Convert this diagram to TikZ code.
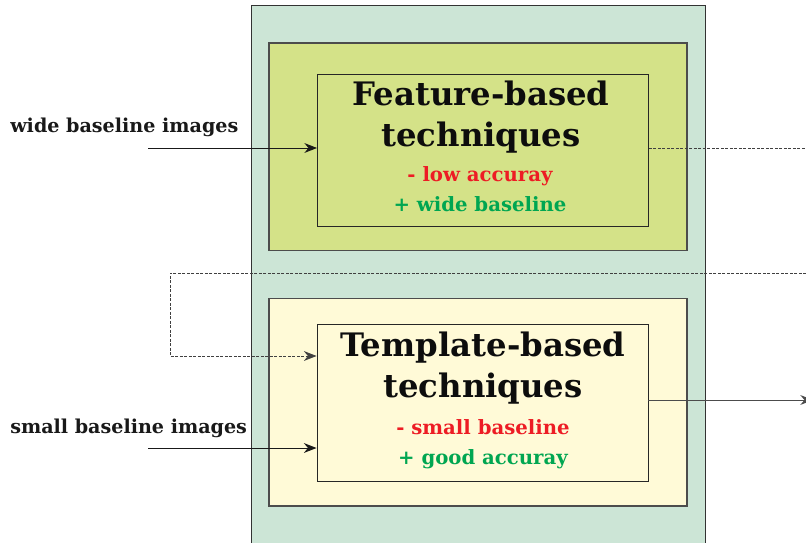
\documentclass[tikz,border=0pt]{standalone}
\usepackage{fontspec}
\setmainfont{DejaVu Serif}
\usetikzlibrary{arrows.meta}

\definecolor{panelgreen}{RGB}{204,229,214}
\definecolor{featgreen}{RGB}{212,226,136}
\definecolor{tplyellow}{RGB}{255,250,215}
\definecolor{minusred}{RGB}{237,28,36}
\definecolor{plusgreen}{RGB}{0,166,81}

\begin{document}
\begin{tikzpicture}[x=0.025cm, y=-0.025cm, >={Stealth[length=9pt,width=7pt]},
    panel/.style={draw=black!80, fill=panelgreen, line width=0.7pt, minimum width=11.325cm, minimum height=14.7cm},
    outerbox/.style={draw=black!70, line width=1pt, minimum width=10.45cm, minimum height=5.19cm},
    innerbox/.style={draw=black!85, line width=0.6pt, minimum width=8.275cm},
    titletext/.style={align=center, font=\fontsize{23}{29}\selectfont\bfseries, text=black!95, inner sep=0pt},
    notetext/.style={align=center, font=\fontsize{14}{21}\selectfont\bfseries, inner sep=0pt},
    inlabel/.style={anchor=base west, font=\fontsize{13.6}{17}\selectfont\bfseries, text=black!90, inner sep=0pt},
    feed/.style={->, line width=0.7pt, black!90},
    link/.style={line width=0.6pt, black!75, dash pattern=on 2pt off 1.2pt}]
    \useasboundingbox (0,0) rectangle (806,543);

    % Define nodes
    \node[panel] (holder) at (478.5,300) {};
    \node[outerbox, fill=featgreen] (featbox) at (478,146.8) {};
    \node[innerbox, minimum height=3.8cm] (featin) at (483,150.7) {};
    \node[outerbox, fill=tplyellow] (tplbox) at (478,402.2) {};
    \node[innerbox, minimum height=3.925cm] (tplin) at (482.5,402.7) {};

    \node[titletext] (feattitle) at (481,117) {Feature-based\\techniques};
    \node[notetext] (featnote) at (480,189) {\color{minusred}- low accuray\\\color{plusgreen}+ wide baseline};
    \node[titletext] (tpltitle) at (483,368) {Template-based\\techniques};
    \node[notetext] (tplnote) at (483,444) {\color{minusred}- small baseline\\\color{plusgreen}+ good accuray};

    \node[inlabel] (widelbl) at (10,133) {wide baseline images};
    \node[inlabel] (smalllbl) at (10,433) {small baseline images};

    \coordinate (widesrc) at (148,148);
    \coordinate (smallsrc) at (148,448);
    \coordinate (featout) at (806,148);
    \coordinate (backin) at (806,273);
    \coordinate (turn) at (170,356);
    \coordinate (tplout) at (813,400);

    % Draw the connectors
    \draw[feed] (widesrc) -- (widesrc -| featin.west);
    \draw[feed] (smallsrc) -- (smallsrc -| tplin.west);
    \draw[link] (featout -| featin.east) -- (featout);
    \draw[link, ->] (backin) -| (turn) -- (turn -| tplin.west);
    \draw[feed, black!70] (tplout -| tplin.east) -- (tplout);
\end{tikzpicture}
\end{document}
